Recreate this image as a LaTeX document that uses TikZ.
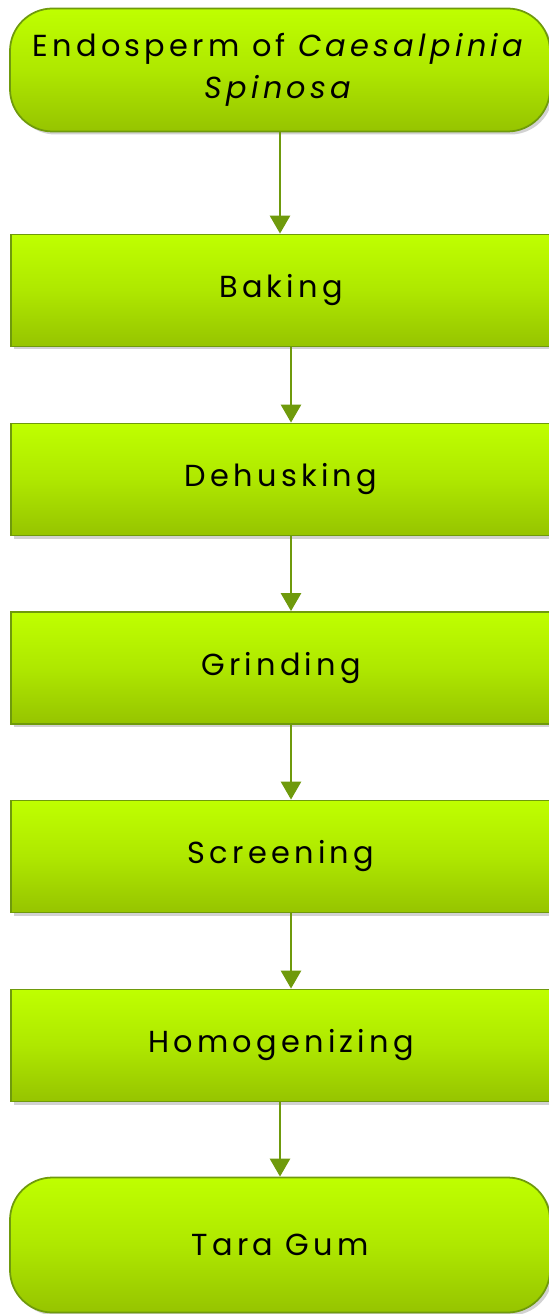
\documentclass[tikz,border=0pt]{standalone}
\usepackage{fontspec}
\setmainfont[LetterSpace=14]{Poppins}
\usetikzlibrary{arrows.meta,shadows}
\definecolor{limetop}{HTML}{BFFF00}
\definecolor{limebot}{HTML}{96C400}
\definecolor{olive}{HTML}{6F9A0C}
\tikzset{
    stepbox/.style={draw=olive, line width=1pt, top color=limetop, bottom color=limebot,
        middle color=limetop!60!limebot, minimum width=10.8cm, minimum height=2.24cm,
        drop shadow={shadow xshift=0.06cm, shadow yshift=-0.06cm, fill=black!35},
        font=\fontsize{17.3}{24}\selectfont, align=center},
    endbox/.style={stepbox, rounded corners=0.85cm},
    arr/.style={draw=olive, line width=1.5pt, -{Triangle[length=0.36cm, width=0.4cm]}}
}
\begin{document}
\begin{tikzpicture}
    \useasboundingbox (0,0) rectangle (10.96,-26.28);

    \node[endbox, minimum height=2.46cm] (seed) at (5.6,-1.4) {Endosperm of \textit{Caesalpinia}\\\textit{Spinosa}};
    \node[stepbox] (baking) at (5.62,-5.81) {Baking};
    \node[stepbox] (dehusk) at (5.62,-9.59) {Dehusking};
    \node[stepbox] (grind) at (5.62,-13.36) {Grinding};
    \node[stepbox] (screen) at (5.62,-17.13) {Screening};
    \node[stepbox] (homog) at (5.62,-20.91) {Homogenizing};
    \node[endbox, minimum height=2.7cm] (gum) at (5.6,-24.9) {Tara Gum};

    \draw[arr] (seed.south) -- (seed.south |- baking.north);
    \draw[arr] ([xshift=0.2cm]baking.south) -- ([xshift=0.2cm]dehusk.north);
    \draw[arr] ([xshift=0.2cm]dehusk.south) -- ([xshift=0.2cm]grind.north);
    \draw[arr] ([xshift=0.2cm]grind.south) -- ([xshift=0.2cm]screen.north);
    \draw[arr] ([xshift=0.2cm]screen.south) -- ([xshift=0.2cm]homog.north);
    \draw[arr] (gum.north |- homog.south) -- (gum.north);
\end{tikzpicture}
\end{document}
